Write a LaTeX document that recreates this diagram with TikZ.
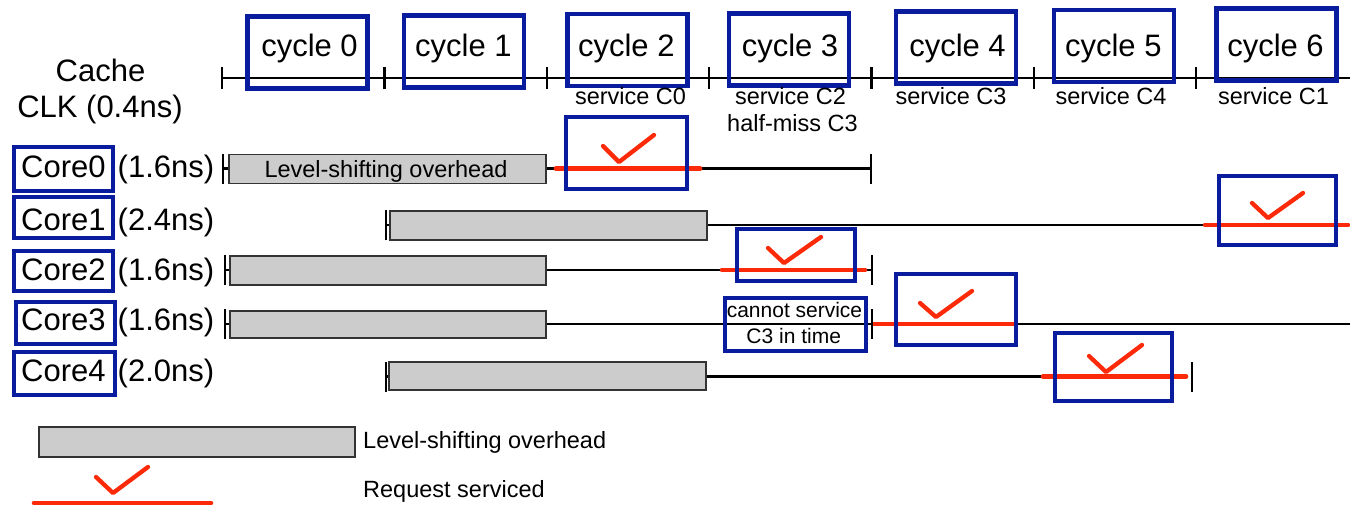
\documentclass[tikz,border=0pt]{standalone}
\usepackage{fontspec}
\setmainfont{Liberation Sans}
\definecolor{frameblue}{RGB}{10,28,158}
\definecolor{reqred}{RGB}{252,42,8}
\definecolor{lsgrey}{RGB}{204,204,204}
\newcommand{\bigtxt}{\fontsize{31}{34}\selectfont}
\newcommand{\midtxt}{\fontsize{23.5}{26}\selectfont}
\newcommand{\smalltxt}{\fontsize{21}{23}\selectfont}
\tikzset{
  frame/.style={draw=frameblue, line width=4.2pt, rectangle, inner sep=0pt},
  lsbox/.style={draw=black!80, fill=lsgrey, line width=1.4pt, rectangle, inner sep=0pt, minimum height=29pt},
  wire/.style={draw=black, line width=2.4pt},
  tickmark/.style={draw=black, line width=2.6pt},
  req/.style={draw=reqred, line width=4.6pt, line cap=round},
  checkmark/.style={draw=reqred, line width=4.3pt, line cap=round, line join=round},
  lbl/.style={inner sep=0pt, anchor=base},
}
\begin{document}
\begin{tikzpicture}[x=1pt, y=-1pt]
\useasboundingbox (0,0) rectangle (1350,506);

% ---- cache clock timeline ----
\node[lbl, font=\bigtxt] (cache) at (100.5,81.7) {Cache};
\node[lbl, font=\bigtxt] (clk) at (100,117.3) {CLK (0.4ns)};

\coordinate (t0) at (222,78);
\coordinate (tend) at (1350,78);
\draw[wire] (t0) -- (tend);
\foreach \x [count=\i from 0] in {222,384.5,547,709,871.5,1034,1196}{
  \coordinate (tk\i) at (\x,78);
  \draw[tickmark] ([yshift=-11pt]tk\i) -- ([yshift=11pt]tk\i);
}

% cycle frames and labels
\foreach \cx/\cy/\tx [count=\i from 0] in
  {307.5/52.5/309.5, 464/51.5/463.4, 627.5/50/626.3, 789/49.5/790,
   956/47.5/957.5, 1114/46/1113.3, 1276.5/44.5/1275.5}{
  \node[frame, minimum width=120pt, minimum height=72pt] (cyc\i) at (\cx,\cy) {};
  \node[lbl, font=\bigtxt] (cyctxt\i) at (\tx,56.7) {cycle \i};
}

% service annotations
\node[lbl, font=\midtxt] (sv0) at (630.5,104.3) {service C0};
\node[lbl, font=\midtxt] (sv1) at (790.5,104.3) {service C2};
\node[lbl, font=\midtxt] (sv1b) at (792.5,131.7) {half-miss C3};
\node[lbl, font=\midtxt] (sv2) at (951,104.3) {service C3};
\node[lbl, font=\midtxt] (sv3) at (1111,104.3) {service C4};
\node[lbl, font=\midtxt] (sv4) at (1273.5,104.3) {service C1};

% ---- core labels ----
\node[frame, minimum width=99pt, minimum height=44pt] (k0) at (63.5,169) {};
\node[frame, minimum width=99pt, minimum height=41pt] (k1) at (63.5,217.5) {};
\node[frame, minimum width=99pt, minimum height=40pt] (k2) at (63.5,271) {};
\node[frame, minimum width=99pt, minimum height=42pt] (k3) at (65.5,323) {};
\node[frame, minimum width=101pt, minimum height=43pt] (k4) at (64.5,373.5) {};
\foreach \bl/\nm/\per [count=\i from 0] in
  {177.7/Core0/1.6, 230/Core1/2.4, 280/Core2/1.6, 330/Core3/1.6, 381.7/Core4/2.0}{
  \node[inner sep=0pt, anchor=base west, font=\bigtxt] (kt\i) at (21,\bl) {\nm};
  \node[inner sep=0pt, anchor=base west, font=\bigtxt] (kp\i) at (117.5,\bl) {(\per ns)};
}

% ---- Core0 ----
\coordinate (s0) at (223,168.5);
\coordinate (e0) at (871,168.5);
\node[lsbox, minimum width=317pt, font=\midtxt] (g0) at (387.5,169) {};
\node[lbl, font=\midtxt] (g0txt) at (386,177.3) {Level-shifting overhead};
\draw[wire] (s0) -- (g0.west |- s0);
\draw[wire] (g0.east |- e0) -- (e0);
\coordinate (r0a) at (556,168.5);
\coordinate (r0b) at (700,168.5);
\draw[req] (r0a) -- (r0b);
\node[frame, minimum width=121pt, minimum height=72pt] (f0) at (626.5,153) {};
\draw[checkmark] (603,146) -- (619,162) -- (654,135);

% ---- Core1 ----
\coordinate (s1) at (386,225);
\coordinate (e1) at (1348,225);
\node[lsbox, minimum width=317pt] (g1) at (548.5,225.5) {};
\coordinate (r1a) at (1205,225);
\draw[wire] (s1) -- (g1.west |- s1);
\draw[wire] (g1.east |- s1) -- (r1a);
\draw[req] (r1a) -- (e1);
\node[frame, minimum width=117pt, minimum height=69pt] (f1) at (1277.5,210.5) {};
\draw[checkmark] (1252,203) -- (1268,218) -- (1303,193);

% ---- Core2 ----
\coordinate (s2) at (225,270);
\coordinate (e2) at (872,270);
\node[lsbox, minimum width=316pt] (g2) at (388,270.5) {};
\coordinate (r2a) at (722,270);
\coordinate (r2b) at (865,270);
\draw[wire] (s2) -- (g2.west |- s2);
\draw[wire] (g2.east |- s2) -- (e2);
\draw[req] (r2a) -- (r2b);
\node[frame, minimum width=118pt, minimum height=52pt] (f2) at (796,255) {};
\draw[checkmark] (768,248) -- (784,263) -- (821,237);

% ---- Core3 ----
\coordinate (s3) at (225,324);
\coordinate (e3) at (872,324);
\coordinate (end3) at (1350,324);
\node[lsbox, minimum width=316pt, minimum height=27pt] (g3) at (388,324.5) {};
\draw[wire] (s3) -- (g3.west |- s3);
\draw[wire] (g3.east |- s3) -- (end3);
\node[draw=frameblue, line width=3.6pt, minimum width=141pt, minimum height=53pt, inner sep=0pt] (miss) at (795.5,324.5) {};
\node[lbl, font=\smalltxt] (miss1) at (794.5,317.7) {cannot service};
\node[lbl, font=\smalltxt] (miss2) at (793.7,343.3) {C3 in time};
\coordinate (r3a) at (873,324);
\coordinate (r3b) at (1016,324);
\draw[req] (r3a) -- (r3b);
\node[frame, minimum width=120pt, minimum height=71pt] (f3) at (956,309.5) {};
\draw[checkmark] (920,303) -- (936,317) -- (972,291);

% ---- Core4 ----
\coordinate (s4) at (386,376.5);
\coordinate (e4) at (1192,376.5);
\node[lsbox, minimum width=317pt, minimum height=28pt] (g4) at (547.5,376) {};
\coordinate (r4a) at (1043,376.5);
\coordinate (r4b) at (1186,376.5);
\draw[wire] (s4) -- (g4.west |- s4);
\draw[wire] (g4.east |- s4) -- (r4a);
\draw[req] (r4a) -- (r4b);
\node[frame, minimum width=117pt, minimum height=68pt] (f4) at (1113.5,367) {};
\draw[checkmark] (1089,356) -- (1106,372) -- (1142,345);

% row start and end ticks
\foreach \p in {s0,e0,s1,s2,e2,s3,e3,s4,e4}{
  \draw[tickmark] ([yshift=-15pt]\p) -- ([yshift=15pt]\p);
}

% ---- legend ----
\node[lsbox, minimum width=316pt, minimum height=30pt] (legbox) at (197,442) {};
\node[inner sep=0pt, anchor=base west, font=\midtxt] (legtxt1) at (363,448.3) {Level-shifting overhead};
\coordinate (lr1) at (34,503);
\coordinate (lr2) at (211,503);
\draw[req] (lr1) -- (lr2);
\draw[checkmark] (96,477) -- (113,493) -- (148,467);
\node[inner sep=0pt, anchor=base west, font=\midtxt] (legtxt2) at (363,497) {Request serviced};
\end{tikzpicture}
\end{document}
